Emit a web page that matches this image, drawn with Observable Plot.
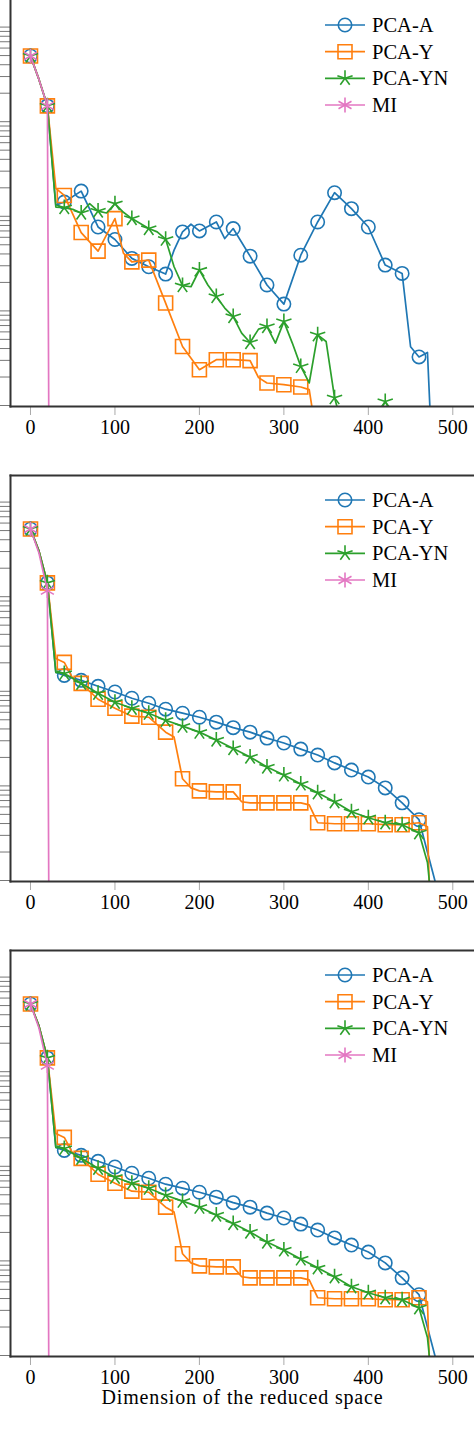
<!DOCTYPE html>
<html><head><meta charset="utf-8">
<script src="https://cdn.jsdelivr.net/npm/d3@7"></script>
<script src="https://cdn.jsdelivr.net/npm/@observablehq/plot@0.6"></script>
<style>
html,body{margin:0;padding:0;background:#fff;overflow:hidden;}
#chart{position:relative;width:474px;height:1438px;overflow:hidden;background:#fff;}
#chart svg{position:absolute;left:0;}
</style></head><body><div id="chart"></div>
<script>
// ---------- data ----------
const dims = [0,10,20,30,40,50,60,70,80,90,100,110,120,130,140,150,160,170,180,190,200,210,220,230,240,250,260,270,280,290,300,310,320,330,340,350,360,370,380,390,400,410,420,430,440,450,460,470,480];
const seriesNames = ["PCA-A","PCA-Y","PCA-YN","MI"];
const seriesColors = ["#1f77b4","#ff7f0e","#2ca02c","#e377c2"];
const xTicks = [0,100,200,300,400,500];
const xLabel = "Dimension of the reduced space";

// panel 1
const pcaA1 = [4950,2800,1470,130.6,141.5,null,184.6,null,77.1,null,56.9,null,35.9,null,29.3,null,24.5,43.9,68.4,82.4,70.0,null,87.1,58.2,74.2,null,37.9,null,18.8,null,11.8,null,38.8,null,87.1,null,177.6,null,120.5,null,77.1,null,30.5,null,24.9,4.18,3.26,3.64,0.036];
const pcaY1 = [4950,2800,1470,197,166,null,67.3,null,42.8,null,94.6,40.8,33.0,null,34.4,null,12.1,null,4.21,null,2.39,null,3.05,null,3.05,null,2.98,1.97,1.73,null,1.66,null,1.57,1.47,0.4,null,null,null,null,null,null,null,null,null,null,null,null,null,null];
const pcaYN1 = [4950,2800,1470,125.3,123.5,118.5,108.3,136.1,113.6,108.3,136.1,110.2,94.6,83.8,74.2,68.4,57.3,29.3,18.5,18.0,27.0,18.8,14.2,10.7,8.71,5.82,4.64,6.42,6.84,4.57,7.71,4.57,2.59,1.73,5.59,4.75,1.21,0.57,0.4,0.4,0.45,0.75,1.1,0.75,0.4,0.4,0.3,0.01,null];
const mi1 = [4950,2800,1470,2.5e-17,null,null,null,null,null,null,null,null,null,null,null,null,null,null,null,null,null,null,null,null,null,null,null,null,null,null,null,null,null,null,null,null,null,null,null,null,null,null,null,null,null,null,null,null,null];

// panels 2 and 3
const pcaA2 = [5200,3050,1400,158.5,147.3,null,130.6,null,112.9,null,98.3,null,84.4,null,74.8,null,64.7,null,58.7,null,53.2,null,47.2,null,41.3,null,37.0,null,32.0,null,28.4,null,24.5,null,21.2,null,17.5,null,14.7,null,12.4,null,9.53,null,6.62,null,4.39,1.99,0.91];
const pcaY2 = [5200,3050,1400,222,202,137,121.4,null,82.4,null,66.2,null,54.6,null,53.2,null,37.0,32.8,11.9,9.53,8.86,null,8.65,null,8.65,6.8,6.62,null,6.62,null,6.62,null,6.62,6.31,4.08,null,3.98,null,3.98,null,3.98,null,3.89,null,3.89,null,4.08,3.70,0.0054];
const pcaYN2 = [5200,3050,1400,158.5,154.6,null,121.4,null,95.3,null,76.6,null,66.2,null,58.7,null,49.5,null,42.8,null,37.0,null,30.5,null,24.8,null,20.2,null,15.85,null,13.06,null,10.5,null,8.44,null,6.79,null,5.33,null,4.60,null,4.08,null,3.89,null,3.20,1.55,0.2];
const mi2 = [5200,2900,1160,8e-17,null,null,null,null,null,null,null,null,null,null,null,null,null,null,null,null,null,null,null,null,null,null,null,null,null,null,null,null,null,null,null,null,null,null,null,null,null,null,null,null,null,null,null,null,null];

// ---------- symbols (pgfplots-like) ----------
const symCircle = {draw(ctx, size){const r=Math.sqrt(size/Math.PI); ctx.moveTo(r,0); ctx.arc(0,0,r,0,2*Math.PI);}};
const symSquare = {draw(ctx, size){const r=Math.sqrt(size/Math.PI); ctx.rect(-r,-r,2*r,2*r);}};
const symStar = {draw(ctx, size){const r=Math.sqrt(size/Math.PI); for(let k=0;k<5;k++){const a=-Math.PI/2+k*2*Math.PI/5; ctx.moveTo(0,0); ctx.lineTo(r*Math.cos(a), r*Math.sin(a));}}};
const symAst = {draw(ctx, size){const r=Math.sqrt(size/Math.PI); for(let k=0;k<3;k++){const a=-Math.PI/2+k*Math.PI/3; ctx.moveTo(r*Math.cos(a), r*Math.sin(a)); ctx.lineTo(-r*Math.cos(a), -r*Math.sin(a));}}};
const syms = [symCircle, symSquare, symStar, symAst];
const radii = [6.7, 7.0, 8.0, 7.5];

// ---------- layout ----------
const W = 474, plotH = 406, mTop = 10, mLeft = 10;
const xDomain = [-23.68, 525.7];
const yDomain = [0.976, 19100];
const yTicks = [];
for (let k = 0; k <= 4; k++) for (let m = 1; m <= 9; m++) { const v = m * Math.pow(10, k); if (v <= yDomain[1]) yTicks.push(v); }
const FONT = "Liberation Serif";
const legendOffsets = [25, 51.7, 78.3, 105];

const chart = document.getElementById("chart");

function makePanel(panelTop, series, withTop, withTitle) {
  const mBottom = withTitle ? 80 : 60;
  const marks = [];
  series.forEach((vals, i) => {
    const pts = dims.map((x, j) => ({x, v: vals[j]})).filter(d => d.v != null);
    marks.push(Plot.line(pts, {x: "x", y: "v", stroke: seriesColors[i], strokeWidth: 1.7, clip: true}));
    marks.push(Plot.dot(pts.filter(d => d.x % 20 === 0 && d.x <= 460), {
      x: "x", y: "v", symbol: syms[i], r: radii[i], stroke: seriesColors[i], strokeWidth: 1.6, fill: "none", clip: true
    }));
  });
  marks.push(Plot.axisY({ticks: yTicks, tickSize: 10, tickFormat: () => "", stroke: "#777", strokeWidth: 1, label: null}));
  marks.push(Plot.axisX({ticks: xTicks, tickSize: 9, tickFormat: () => "", stroke: "#aaa", strokeWidth: 1, label: null}));
  marks.push(Plot.text(xTicks, {x: d => d, text: d => String(d), frameAnchor: "bottom", lineAnchor: "bottom", dy: 27, fontSize: 20, fontFamily: FONT, fill: "#000"}));
  if (withTitle) marks.push(Plot.text([xLabel], {text: d => d, frameAnchor: "bottom", lineAnchor: "bottom", dy: 47, fontSize: 20, fontFamily: FONT, fill: "#000"}));
  marks.push(Plot.frame({anchor: "left", stroke: "#333", strokeWidth: 2}));
  marks.push(Plot.frame({anchor: "bottom", stroke: "#333", strokeWidth: 2}));
  if (withTop) marks.push(Plot.frame({anchor: "top", stroke: "#333", strokeWidth: 2}));

  const svg = Plot.plot({
    width: W, height: mTop + plotH + mBottom,
    marginTop: mTop, marginLeft: mLeft, marginRight: 0, marginBottom: mBottom,
    x: {type: "linear", domain: xDomain},
    y: {type: "log", domain: yDomain},
    style: {background: "transparent", fontFamily: FONT, overflow: "visible"},
    marks
  });
  svg.style.top = (panelTop - mTop) + "px";

  const s = d3.select(svg);
  s.selectAll("text").filter(function(){ return this.textContent === xLabel; }).style("letter-spacing", "0.85px");

  // legend
  const g = s.append("g").attr("text-anchor", "start");
  seriesNames.forEach((name, i) => {
    const y = mTop + legendOffsets[i];
    g.append("line").attr("x1", 325).attr("x2", 365).attr("y1", y).attr("y2", y)
      .attr("stroke", seriesColors[i]).attr("stroke-width", 1.7);
    g.append("path").attr("d", d3.symbol(syms[i], Math.PI * radii[i] * radii[i])())
      .attr("transform", `translate(345,${y})`).attr("fill", "none")
      .attr("stroke", seriesColors[i]).attr("stroke-width", 1.6);
    g.append("text").attr("x", 372).attr("y", y + 6.8).attr("text-anchor", "start").text(name)
      .attr("font-family", FONT).attr("font-size", 20.5).attr("fill", "#000");
  });
  chart.appendChild(svg);
}

makePanel(0, [pcaA1, pcaY1, pcaYN1, mi1], false, false);
makePanel(475, [pcaA2, pcaY2, pcaYN2, mi2], true, false);
makePanel(950, [pcaA2, pcaY2, pcaYN2, mi2], true, true);
</script></body></html>
